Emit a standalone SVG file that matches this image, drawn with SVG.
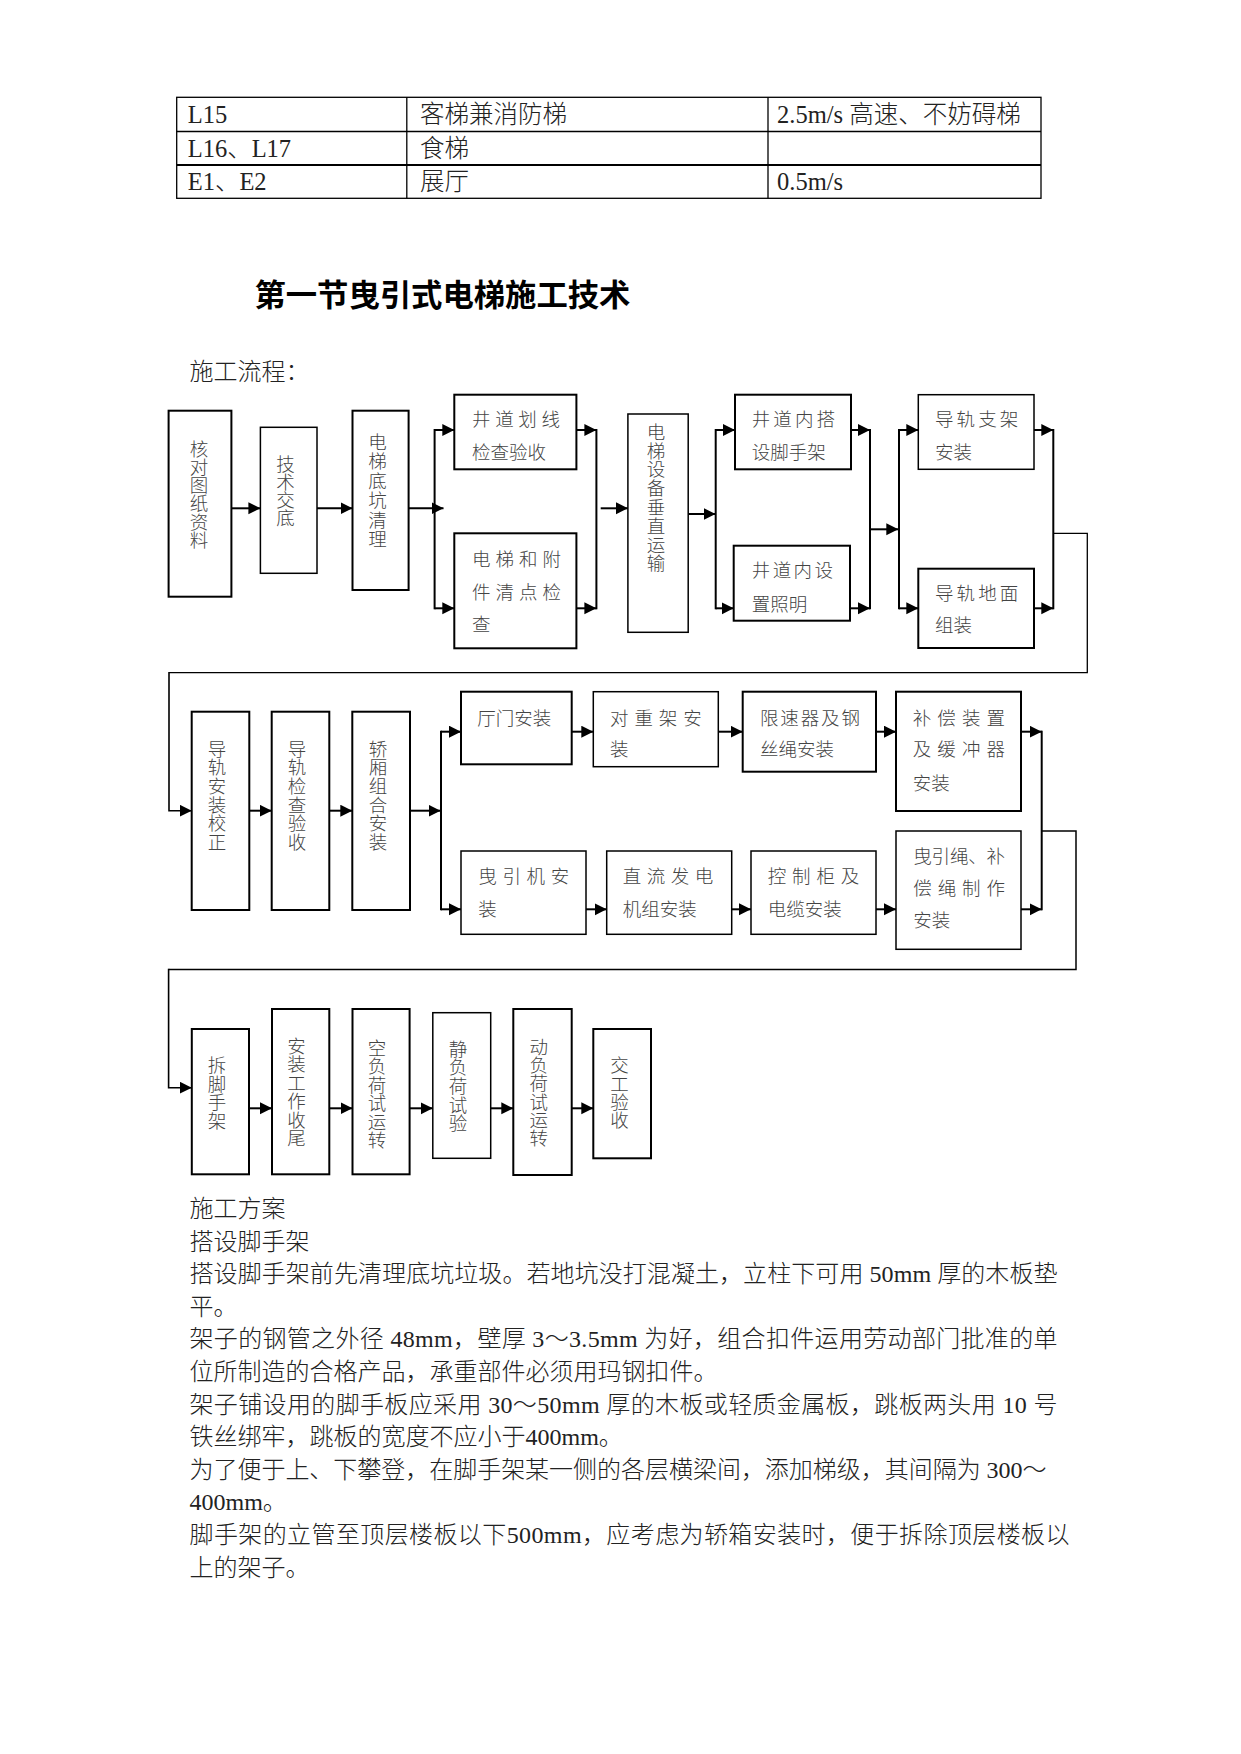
<svg xmlns="http://www.w3.org/2000/svg" width="1241" height="1754" viewBox="0 0 1241 1754">
<style>
.bg{fill:#fff}
.b{fill:#fff;stroke:#000;stroke-width:2}
.bt{stroke-width:1.5}
.tb{fill:none;stroke:#000;stroke-width:1.3}
.t{font-family:"Liberation Serif","Noto Sans CJK SC",serif;font-size:24px;font-weight:300;fill:#222}
.tt{font-size:24.5px}
.h{font-family:"Noto Sans CJK SC",sans-serif;font-size:31px;font-weight:bold;fill:#000}
.n{font-family:"Liberation Serif","Noto Sans CJK SC",sans-serif;font-size:18.5px;font-weight:300;fill:#444}
.v{text-anchor:middle}
.a{stroke:#000;stroke-width:2;fill:none;marker-end:url(#ah)}
.l{stroke:#000;stroke-width:2;fill:none}
.f{stroke:#000;stroke-width:1.3;fill:none}
</style>
<defs>
<marker id="ah" markerUnits="userSpaceOnUse" markerWidth="13" markerHeight="13" refX="12" refY="6" orient="auto">
<path d="M0,0 L12,6 L0,12 z" fill="#000"/>
</marker>
</defs>
<rect class="bg" x="0" y="0" width="1241" height="1754"/>

<g id="table">
<rect class="tb" x="176.7" y="97.3" width="864.3" height="101"/>
<line class="tb" x1="176.7" y1="131.5" x2="1041" y2="131.5"/>
<line class="tb" x1="176.7" y1="165" x2="1041" y2="165" style="stroke-width:2.2"/>
<line class="tb" x1="406.8" y1="97.3" x2="406.8" y2="198.3"/>
<line class="tb" x1="768" y1="97.3" x2="768" y2="198.3"/>
<text class="t tt" x="187.7" y="122.5">L15</text>
<text class="t tt" x="420" y="122.5">客梯兼消防梯</text>
<text class="t tt" x="777" y="122.5">2.5m/s 高速、不妨碍梯</text>
<text class="t tt" x="187.7" y="156.5">L16、L17</text>
<text class="t tt" x="420" y="156.5">食梯</text>
<text class="t tt" x="187.7" y="190">E1、E2</text>
<text class="t tt" x="420" y="190">展厅</text>
<text class="t tt" x="777" y="190">0.5m/s</text>
</g>

<g id="title">
<text class="h" x="254.4" y="305.5" textLength="376" lengthAdjust="spacingAndGlyphs">第一节曳引式电梯施工技术</text>
<text class="t" x="189.4" y="379.5">施工流程：</text>
</g>

<g id="connectors">
<!-- row 1 -->
<line class="a" x1="231.4" y1="508.3" x2="260.4" y2="508.3"/>
<line class="a" x1="317" y1="508.3" x2="352.5" y2="508.3"/>
<line class="a" x1="408.6" y1="508.3" x2="443.5" y2="508.3"/>
<line class="l" x1="434.6" y1="429" x2="434.6" y2="609.3"/>
<line class="a" x1="434.6" y1="430" x2="454.3" y2="430"/>
<line class="a" x1="434.6" y1="608.3" x2="454.3" y2="608.3"/>
<line class="a" x1="576.4" y1="430" x2="596.4" y2="430"/>
<line class="a" x1="576.4" y1="608.3" x2="596.4" y2="608.3"/>
<line class="l" x1="596.4" y1="429" x2="596.4" y2="609.3"/>
<line class="a" x1="600.7" y1="508.3" x2="627.9" y2="508.3"/>
<line class="a" x1="688.2" y1="514" x2="715.5" y2="514"/>
<line class="l" x1="715.7" y1="429" x2="715.7" y2="609.3"/>
<line class="a" x1="715.7" y1="430" x2="735" y2="430"/>
<line class="a" x1="715.7" y1="608.3" x2="733.7" y2="608.3"/>
<line class="a" x1="851" y1="430" x2="870" y2="430"/>
<line class="a" x1="850" y1="608.3" x2="870" y2="608.3"/>
<line class="l" x1="870" y1="429" x2="870" y2="609.3"/>
<line class="a" x1="870" y1="529.3" x2="898.3" y2="529.3"/>
<line class="l" x1="899" y1="429" x2="899" y2="609.3"/>
<line class="a" x1="899" y1="430" x2="918.3" y2="430"/>
<line class="a" x1="899" y1="608.3" x2="918.3" y2="608.3"/>
<line class="a" x1="1034" y1="430" x2="1053.3" y2="430"/>
<line class="a" x1="1034" y1="608.3" x2="1053.3" y2="608.3"/>
<line class="l" x1="1053.3" y1="429" x2="1053.3" y2="609.3"/>
<polyline class="f" points="1053.3,533.3 1087.3,533.3 1087.3,672.7 169,672.7"/>
<polyline class="l" points="169,672 169,810.7 191.7,810.7" style="stroke-width:1.6;marker-end:url(#ah)"/>
<!-- row 2 -->
<line class="a" x1="249.3" y1="810.7" x2="271.7" y2="810.7"/>
<line class="a" x1="329.3" y1="810.7" x2="352.3" y2="810.7"/>
<line class="a" x1="410" y1="810.7" x2="440.5" y2="810.7"/>
<line class="l" x1="441" y1="730.7" x2="441" y2="910.3"/>
<line class="a" x1="441" y1="731.7" x2="461" y2="731.7"/>
<line class="a" x1="441" y1="909.3" x2="461" y2="909.3"/>
<line class="a" x1="571.7" y1="731.7" x2="593.3" y2="731.7"/>
<line class="a" x1="718.3" y1="731.7" x2="742.7" y2="731.7"/>
<line class="a" x1="876" y1="731.7" x2="896" y2="731.7"/>
<line class="a" x1="1021" y1="731.7" x2="1041.7" y2="731.7"/>
<line class="a" x1="586" y1="909.3" x2="606.7" y2="909.3"/>
<line class="a" x1="731.7" y1="909.3" x2="751" y2="909.3"/>
<line class="a" x1="876" y1="909.3" x2="896" y2="909.3"/>
<line class="a" x1="1021" y1="909.3" x2="1041.7" y2="909.3"/>
<line class="l" x1="1041.7" y1="730.7" x2="1041.7" y2="910.3"/>
<polyline class="f" points="1041.7,831 1076,831 1076,969.5 168.6,969.5" style="stroke-width:1.5"/>
<polyline class="l" points="168.6,968.8 168.6,1087.7 191.8,1087.7" style="stroke-width:1.6;marker-end:url(#ah)"/>
<!-- row 3 -->
<line class="a" x1="249" y1="1108.3" x2="272" y2="1108.3"/>
<line class="a" x1="329.3" y1="1108.3" x2="352.5" y2="1108.3"/>
<line class="a" x1="409.6" y1="1108.3" x2="432.8" y2="1108.3"/>
<line class="a" x1="490.7" y1="1108.3" x2="513.3" y2="1108.3"/>
<line class="a" x1="571.7" y1="1108.3" x2="593.3" y2="1108.3"/>
</g>

<g id="n1">
<rect class="b" x="168.6" y="410.7" width="62.8" height="186"/>
<text class="n v"><tspan x="199" y="455.5">核</tspan><tspan x="199" y="473.8">对</tspan><tspan x="199" y="492.1">图</tspan><tspan x="199" y="510.4">纸</tspan><tspan x="199" y="528.7">资</tspan><tspan x="199" y="547">料</tspan></text>
</g>
<g id="n2">
<rect class="b bt" x="260.4" y="427.3" width="56.6" height="146"/>
<text class="n v"><tspan x="285.5" y="470.5">技</tspan><tspan x="285.5" y="488.8">术</tspan><tspan x="285.5" y="507.1">交</tspan><tspan x="285.5" y="525.4">底</tspan></text>
</g>
<g id="n3">
<rect class="b" x="352.5" y="410.7" width="56.1" height="179.3"/>
<text class="n v"><tspan x="377.5" y="448.8">电</tspan><tspan x="377.5" y="468.3">梯</tspan><tspan x="377.5" y="487.8">底</tspan><tspan x="377.5" y="507.3">坑</tspan><tspan x="377.5" y="526.8">清</tspan><tspan x="377.5" y="546.3">理</tspan></text>
</g>
<g id="n4">
<rect class="b" x="454.3" y="394.7" width="122.1" height="74.6"/>
<text class="n"><tspan x="472" y="426" textLength="88" lengthAdjust="spacing">井道划线</tspan><tspan x="472" y="459">检查验收</tspan></text>
</g>
<g id="n5">
<rect class="b" x="454.3" y="533.3" width="122.1" height="115"/>
<text class="n"><tspan x="472" y="565.5" textLength="89" lengthAdjust="spacing">电梯和附</tspan><tspan x="472" y="599" textLength="89" lengthAdjust="spacing">件清点检</tspan><tspan x="472" y="630.5">查</tspan></text>
</g>
<g id="n6">
<rect class="b bt" x="627.9" y="414" width="60.3" height="218.3"/>
<text class="n v"><tspan x="656" y="438.8">电</tspan><tspan x="656" y="457.6">梯</tspan><tspan x="656" y="476.4">设</tspan><tspan x="656" y="495.2">备</tspan><tspan x="656" y="514">垂</tspan><tspan x="656" y="532.8">直</tspan><tspan x="656" y="551.6">运</tspan><tspan x="656" y="570.4">输</tspan></text>
</g>
<g id="n7">
<rect class="b" x="735" y="394.7" width="116" height="74.6"/>
<text class="n"><tspan x="751.7" y="426" textLength="83.3" lengthAdjust="spacing">井道内搭</tspan><tspan x="751.7" y="459">设脚手架</tspan></text>
</g>
<g id="n8">
<rect class="b" x="733.7" y="545.7" width="116.3" height="75"/>
<text class="n"><tspan x="751.7" y="577" textLength="81.3" lengthAdjust="spacing">井道内设</tspan><tspan x="751.7" y="610.5">置照明</tspan></text>
</g>
<g id="n9">
<rect class="b bt" x="918.3" y="394.7" width="115.7" height="74.6"/>
<text class="n"><tspan x="935" y="426" textLength="83.3" lengthAdjust="spacing">导轨支架</tspan><tspan x="935" y="459">安装</tspan></text>
</g>
<g id="n10">
<rect class="b" x="918.3" y="568.7" width="115.7" height="79.3"/>
<text class="n"><tspan x="935" y="600" textLength="83.3" lengthAdjust="spacing">导轨地面</tspan><tspan x="935" y="632">组装</tspan></text>
</g>

<g id="n11">
<rect class="b" x="191.7" y="711.7" width="57.6" height="198.3"/>
<text class="n v"><tspan x="217" y="755.5">导</tspan><tspan x="217" y="774.2">轨</tspan><tspan x="217" y="792.9">安</tspan><tspan x="217" y="811.6">装</tspan><tspan x="217" y="830.3">校</tspan><tspan x="217" y="849">正</tspan></text>
</g>
<g id="n12">
<rect class="b" x="271.7" y="711.7" width="57.6" height="198.3"/>
<text class="n v"><tspan x="297" y="755.5">导</tspan><tspan x="297" y="774.2">轨</tspan><tspan x="297" y="792.9">检</tspan><tspan x="297" y="811.6">查</tspan><tspan x="297" y="830.3">验</tspan><tspan x="297" y="849">收</tspan></text>
</g>
<g id="n13">
<rect class="b" x="352.3" y="711.7" width="57.7" height="198.3"/>
<text class="n v"><tspan x="378" y="755.5">轿</tspan><tspan x="378" y="774.2">厢</tspan><tspan x="378" y="792.9">组</tspan><tspan x="378" y="811.6">合</tspan><tspan x="378" y="830.3">安</tspan><tspan x="378" y="849">装</tspan></text>
</g>
<g id="n14">
<rect class="b" x="461" y="691.7" width="110.7" height="72.6"/>
<text class="n" x="477.3" y="724.5">厅门安装</text>
</g>
<g id="n15">
<rect class="b bt" x="461" y="851" width="125" height="83.3"/>
<text class="n"><tspan x="478.3" y="883" textLength="91" lengthAdjust="spacing">曳引机安</tspan><tspan x="478.3" y="915.5">装</tspan></text>
</g>
<g id="n16">
<rect class="b bt" x="593.3" y="691.7" width="125" height="75"/>
<text class="n"><tspan x="610" y="724.5" textLength="91.7" lengthAdjust="spacing">对重架安</tspan><tspan x="610" y="756">装</tspan></text>
</g>
<g id="n17">
<rect class="b" x="742.7" y="691.7" width="133.3" height="80"/>
<text class="n"><tspan x="760" y="724.5" textLength="100" lengthAdjust="spacing">限速器及钢</tspan><tspan x="760" y="756">丝绳安装</tspan></text>
</g>
<g id="n18">
<rect class="b" x="896" y="691.7" width="125" height="119.3"/>
<text class="n"><tspan x="912.7" y="724.5" textLength="92.3" lengthAdjust="spacing">补偿装置</tspan><tspan x="912.7" y="756" textLength="92.3" lengthAdjust="spacing">及缓冲器</tspan><tspan x="912.7" y="789.5">安装</tspan></text>
</g>
<g id="n19">
<rect class="b bt" x="606.7" y="851" width="125" height="83.3"/>
<text class="n"><tspan x="622.7" y="883" textLength="90.6" lengthAdjust="spacing">直流发电</tspan><tspan x="622.7" y="915.5">机组安装</tspan></text>
</g>
<g id="n20">
<rect class="b bt" x="751" y="851" width="125" height="83.3"/>
<text class="n"><tspan x="767.7" y="883" textLength="91.6" lengthAdjust="spacing">控制柜及</tspan><tspan x="767.7" y="915.5">电缆安装</tspan></text>
</g>
<g id="n21">
<rect class="b bt" x="896" y="831" width="125" height="118.3"/>
<text class="n"><tspan x="913.3" y="863" textLength="91.7" lengthAdjust="spacing">曳引绳、补</tspan><tspan x="913.3" y="894.5" textLength="91.7" lengthAdjust="spacing">偿绳制作</tspan><tspan x="913.3" y="927">安装</tspan></text>
</g>

<g id="n22">
<rect class="b" x="191.8" y="1029" width="57.2" height="145.3"/>
<text class="n v"><tspan x="217" y="1072.2">拆</tspan><tspan x="217" y="1090.7">脚</tspan><tspan x="217" y="1109.2">手</tspan><tspan x="217" y="1127.7">架</tspan></text>
</g>
<g id="n23">
<rect class="b" x="272" y="1009" width="57.3" height="165.3"/>
<text class="n v"><tspan x="296.5" y="1052.8">安</tspan><tspan x="296.5" y="1071.3">装</tspan><tspan x="296.5" y="1089.8">工</tspan><tspan x="296.5" y="1108.3">作</tspan><tspan x="296.5" y="1126.8">收</tspan><tspan x="296.5" y="1145.3">尾</tspan></text>
</g>
<g id="n24">
<rect class="b" x="352.5" y="1009" width="57.1" height="165.3"/>
<text class="n v"><tspan x="377" y="1054.5">空</tspan><tspan x="377" y="1073">负</tspan><tspan x="377" y="1091.5">荷</tspan><tspan x="377" y="1110">试</tspan><tspan x="377" y="1128.5">运</tspan><tspan x="377" y="1147">转</tspan></text>
</g>
<g id="n25">
<rect class="b bt" x="432.8" y="1012.7" width="57.9" height="145.6"/>
<text class="n v"><tspan x="458" y="1055.5">静</tspan><tspan x="458" y="1074.2">负</tspan><tspan x="458" y="1092.9">荷</tspan><tspan x="458" y="1111.6">试</tspan><tspan x="458" y="1130.3">验</tspan></text>
</g>
<g id="n26">
<rect class="b" x="513.3" y="1009" width="58.4" height="166"/>
<text class="n v"><tspan x="538.7" y="1053.8">动</tspan><tspan x="538.7" y="1072.1">负</tspan><tspan x="538.7" y="1090.4">荷</tspan><tspan x="538.7" y="1108.7">试</tspan><tspan x="538.7" y="1127">运</tspan><tspan x="538.7" y="1145.3">转</tspan></text>
</g>
<g id="n27">
<rect class="b" x="593.3" y="1029" width="57.7" height="129.3"/>
<text class="n v"><tspan x="619.5" y="1072.2">交</tspan><tspan x="619.5" y="1090.5">工</tspan><tspan x="619.5" y="1108.8">验</tspan><tspan x="619.5" y="1127.1">收</tspan></text>
</g>

<g id="body">
<text class="t" x="189.5" y="1217">施工方案</text>
<text class="t" x="189.5" y="1249.6">搭设脚手架</text>
<text class="t" x="189.5" y="1282.2" textLength="868" lengthAdjust="spacing">搭设脚手架前先清理底坑垃圾。若地坑没打混凝土，立柱下可用 50mm 厚的木板垫</text>
<text class="t" x="189.5" y="1314.8">平。</text>
<text class="t" x="189.5" y="1347.4" textLength="868" lengthAdjust="spacing">架子的钢管之外径  48mm，壁厚 3～3.5mm 为好，组合扣件运用劳动部门批准的单</text>
<text class="t" x="189.5" y="1380">位所制造的合格产品，承重部件必须用玛钢扣件。</text>
<text class="t" x="189.5" y="1412.6" textLength="868" lengthAdjust="spacing">架子铺设用的脚手板应采用 30～50mm 厚的木板或轻质金属板，跳板两头用  10 号</text>
<text class="t" x="189.5" y="1445.2">铁丝绑牢，跳板的宽度不应小于400mm。</text>
<text class="t" x="189.5" y="1477.8" textLength="857" lengthAdjust="spacing">为了便于上、下攀登，在脚手架某一侧的各层横梁间，添加梯级，其间隔为 300～</text>
<text class="t" x="189.5" y="1510.4">400mm。</text>
<text class="t" x="189.5" y="1543" textLength="880" lengthAdjust="spacing">脚手架的立管至顶层楼板以下500mm，应考虑为轿箱安装时，便于拆除顶层楼板以</text>
<text class="t" x="189.5" y="1575.6">上的架子。</text>
</g>
</svg>
